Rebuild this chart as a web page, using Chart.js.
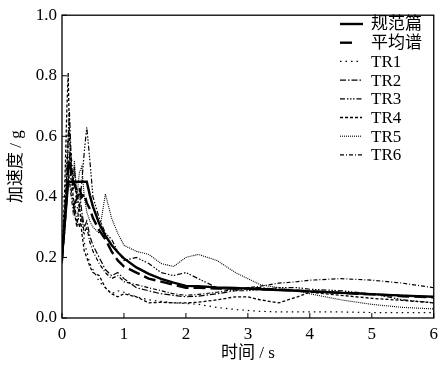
<!DOCTYPE html>
<html>
<head>
<meta charset="utf-8">
<script src="https://cdn.jsdelivr.net/npm/chart.js@4.4.1/dist/chart.umd.min.js"></script>
<style>
html,body{margin:0;padding:0;background:#fff;}
#wrap{width:444px;height:365px;position:relative;}
</style>
</head>
<body>
<div id="wrap"><canvas id="c" width="444" height="365"></canvas></div>
<script>
// Period grid (s)
const periods = [0, 0.04, 0.08, 0.1, 0.12, 0.15, 0.18, 0.2, 0.24, 0.28, 0.32, 0.36, 0.4, 0.45, 0.5, 0.6, 0.7, 0.8, 0.9, 1.0, 1.2, 1.4, 1.6, 1.8, 2.0, 2.2, 2.5, 2.8, 3.0, 3.2, 3.5, 3.8, 4.0, 4.5, 5.0, 5.5, 6.0];

const seriesNames = ['规范篇', '平均谱', 'TR1', 'TR2', 'TR3', 'TR4', 'TR5', 'TR6'];

const codeSpectrum = [0.20, 0.30, 0.40, 0.45, 0.45, 0.45, 0.45, 0.45, 0.45, 0.45, 0.45, 0.45, 0.45, 0.405, 0.368, 0.312, 0.272, 0.241, 0.217, 0.197, 0.167, 0.146, 0.129, 0.117, 0.106, 0.105, 0.101, 0.099, 0.097, 0.095, 0.092, 0.090, 0.088, 0.083, 0.079, 0.074, 0.070];
const meanSpectrum = [0.19, 0.30, 0.42, 0.50, 0.52, 0.48, 0.45, 0.44, 0.42, 0.43, 0.40, 0.41, 0.38, 0.36, 0.33, 0.29, 0.26, 0.22, 0.19, 0.17, 0.15, 0.13, 0.12, 0.11, 0.10, 0.10, 0.097, 0.097, 0.097, 0.095, 0.093, 0.090, 0.088, 0.083, 0.078, 0.072, 0.068];
const tr1 = [0.20, 0.35, 0.55, 0.62, 0.50, 0.55, 0.42, 0.45, 0.38, 0.30, 0.34, 0.25, 0.22, 0.18, 0.16, 0.12, 0.10, 0.08, 0.09, 0.085, 0.07, 0.06, 0.055, 0.05, 0.048, 0.045, 0.035, 0.028, 0.025, 0.022, 0.02, 0.02, 0.02, 0.02, 0.018, 0.018, 0.018];
const tr2 = [0.22, 0.35, 0.48, 0.60, 0.68, 0.52, 0.45, 0.50, 0.38, 0.42, 0.35, 0.30, 0.32, 0.27, 0.24, 0.20, 0.16, 0.14, 0.15, 0.13, 0.10, 0.09, 0.08, 0.075, 0.07, 0.072, 0.08, 0.09, 0.10, 0.10, 0.095, 0.09, 0.088, 0.085, 0.08, 0.075, 0.07];
const tr3 = [0.18, 0.28, 0.40, 0.45, 0.55, 0.42, 0.38, 0.35, 0.42, 0.36, 0.45, 0.55, 0.63, 0.52, 0.40, 0.33, 0.28, 0.26, 0.22, 0.19, 0.20, 0.18, 0.15, 0.14, 0.15, 0.13, 0.10, 0.09, 0.09, 0.095, 0.10, 0.10, 0.095, 0.09, 0.08, 0.06, 0.05];
const tr4 = [0.20, 0.40, 0.70, 0.81, 0.60, 0.50, 0.40, 0.35, 0.30, 0.38, 0.28, 0.22, 0.20, 0.17, 0.15, 0.14, 0.10, 0.08, 0.07, 0.08, 0.07, 0.05, 0.052, 0.05, 0.05, 0.052, 0.06, 0.07, 0.07, 0.06, 0.05, 0.07, 0.085, 0.075, 0.065, 0.058, 0.05];
const tr5 = [0.19, 0.30, 0.50, 0.58, 0.62, 0.50, 0.45, 0.52, 0.40, 0.48, 0.50, 0.40, 0.35, 0.32, 0.30, 0.28, 0.41, 0.33, 0.28, 0.24, 0.22, 0.21, 0.18, 0.17, 0.20, 0.21, 0.19, 0.15, 0.13, 0.11, 0.10, 0.09, 0.08, 0.06, 0.045, 0.035, 0.03];
const tr6 = [0.21, 0.32, 0.45, 0.52, 0.45, 0.40, 0.35, 0.38, 0.32, 0.30, 0.33, 0.28, 0.30, 0.25, 0.22, 0.18, 0.15, 0.13, 0.14, 0.12, 0.11, 0.10, 0.09, 0.08, 0.075, 0.078, 0.085, 0.095, 0.10, 0.105, 0.115, 0.12, 0.125, 0.13, 0.125, 0.115, 0.10];

const xTicks = [0, 1, 2, 3, 4, 5, 6];
const yTicks = [0.0, 0.2, 0.4, 0.6, 0.8, 1.0];

const FONT = "'Liberation Serif', 'Noto Sans CJK SC', serif";

const allSeries = [codeSpectrum, meanSpectrum, tr1, tr2, tr3, tr4, tr5, tr6];
const styles = [
  {w: 2.4, dash: [], len: 23},
  {w: 2.4, dash: [12, 5], len: 15},
  {w: 1.2, dash: [1.5, 4], len: 22},
  {w: 1.2, dash: [6, 2, 1.5, 2], len: 22},
  {w: 1.2, dash: [5, 2, 1.5, 1.5, 1.5, 1.5, 1.5, 2], len: 22},
  {w: 1.3, dash: [3, 2], len: 22},
  {w: 1.1, dash: [1, 1], len: 22},
  {w: 1.2, dash: [4, 2, 1, 2], len: 22}
];

const datasets = allSeries.map((vals, i) => ({
  label: seriesNames[i],
  data: periods.map((t, k) => ({x: t, y: vals[k]})),
  borderColor: '#000',
  borderWidth: styles[i].w,
  borderDash: styles[i].dash,
  pointRadius: 0,
  tension: 0,
  fill: false,
  legendLen: styles[i].len
}));

const framePlugin = {
  id: 'frame',
  afterDraw(chart) {
    const {ctx, chartArea: a, scales} = chart;
    ctx.save();
    ctx.strokeStyle = '#000';
    ctx.lineWidth = 1.3;
    ctx.setLineDash([]);
    ctx.strokeRect(a.left, a.top, a.right - a.left, a.bottom - a.top);
    // inward ticks
    ctx.lineWidth = 1;
    xTicks.forEach(v => {
      const x = scales.x.getPixelForValue(v);
      ctx.beginPath(); ctx.moveTo(x, a.bottom); ctx.lineTo(x, a.bottom - 5); ctx.stroke();
    });
    yTicks.forEach(v => {
      const y = scales.y.getPixelForValue(v);
      ctx.beginPath(); ctx.moveTo(a.left, y); ctx.lineTo(a.left + 5, y); ctx.stroke();
    });
    // legend
    ctx.font = '17px ' + FONT;
    ctx.textBaseline = 'middle';
    ctx.fillStyle = '#000';
    chart.data.datasets.forEach((ds, i) => {
      const y = 24 + i * 18.7;
      ctx.lineWidth = ds.borderWidth;
      ctx.setLineDash(ds.borderDash);
      ctx.beginPath(); ctx.moveTo(340, y); ctx.lineTo(340 + ds.legendLen, y); ctx.stroke();
      ctx.setLineDash([]);
      ctx.fillText(ds.label, 371, y + 1);
    });
    ctx.restore();
  }
};

new Chart(document.getElementById('c'), {
  type: 'line',
  data: {datasets},
  plugins: [framePlugin],
  options: {
    responsive: false,
    animation: false,
    layout: {padding: {top: 12, right: 6, left: 0, bottom: 0}},
    plugins: {legend: {display: false}, tooltip: {enabled: false}},
    scales: {
      x: {
        type: 'linear', min: 0, max: 6,
        afterFit(s) { s.height = 47; },
        afterBuildTicks(s) { s.ticks = xTicks.map(v => ({value: v})); },
        grid: {display: false, drawTicks: false},
        border: {display: false},
        ticks: {color: '#000', padding: 6, font: {family: FONT, size: 17}, maxRotation: 0},
        title: {display: true, text: '时间 / s', color: '#000', font: {family: FONT, size: 17}, padding: {top: 0, bottom: 1}}
      },
      y: {
        type: 'linear', min: 0, max: 1,
        afterFit(s) { s.width = 62; },
        afterBuildTicks(s) { s.ticks = yTicks.map(v => ({value: v})); },
        grid: {display: false, drawTicks: false},
        border: {display: false},
        ticks: {color: '#000', padding: 5, font: {family: FONT, size: 17}, callback: v => Number(v).toFixed(1)},
        title: {display: true, text: '加速度 / g', color: '#000', font: {family: FONT, size: 17}, padding: {top: 6, bottom: 0}}
      }
    }
  }
});
</script>
</body>
</html>
